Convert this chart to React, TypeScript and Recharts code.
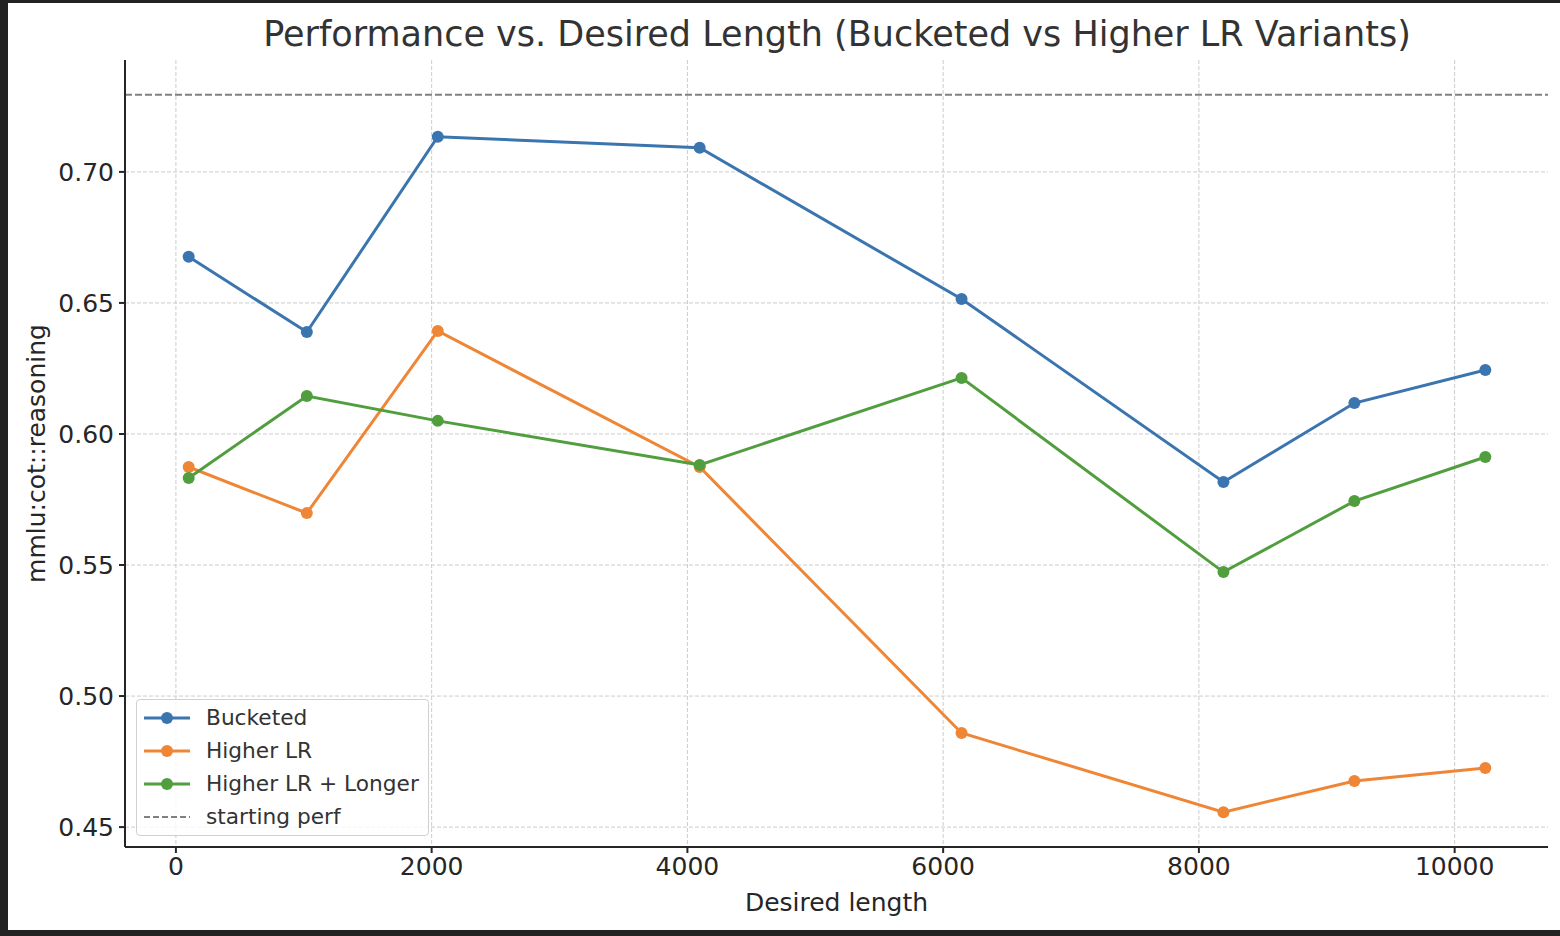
import {
  LineChart,
  Line,
  XAxis,
  YAxis,
  CartesianGrid,
  ReferenceLine,
} from "recharts";

const desiredLength = [100, 1024, 2048, 4096, 6144, 8192, 9216, 10240];
const bucketed = [0.6676, 0.6389, 0.7134, 0.7092, 0.6515, 0.5817, 0.6118, 0.6244];
const higherLR = [0.5874, 0.5698, 0.6393, 0.5874, 0.4859, 0.4557, 0.4676, 0.4725];
const higherLRLonger = [0.5832, 0.6145, 0.605, 0.5882, 0.6214, 0.5473, 0.5744, 0.5912];
const startingPerf = 0.7294;

const xTicks = [0, 2000, 4000, 6000, 8000, 10000];
const yTicks = [0.45, 0.5, 0.55, 0.6, 0.65, 0.7];

const data = desiredLength.map((x, i) => ({
  x,
  bucketed: bucketed[i],
  higherLR: higherLR[i],
  higherLRLonger: higherLRLonger[i],
}));

const FONT = "'DejaVu Sans', sans-serif";
const BLUE = "#3a75af";
const ORANGE = "#ef8636";
const GREEN = "#519e3e";
const TEXT = "#262626";

const legendItems = [
  { label: "Bucketed", color: BLUE, dashed: false },
  { label: "Higher LR", color: ORANGE, dashed: false },
  { label: "Higher LR + Longer", color: GREEN, dashed: false },
  { label: "starting perf", color: "#808080", dashed: true },
];

function LegendBox() {
  return (
    <div
      style={{
        position: "absolute",
        left: 136,
        top: 699,
        width: 293,
        height: 137,
        boxSizing: "border-box",
        border: "1px solid #d0d0d0",
        borderRadius: 4,
        background: "rgba(255,255,255,0.8)",
        fontFamily: FONT,
        fontSize: 21.7,
        color: "#333333",
        paddingTop: 1,
      }}
    >
      {legendItems.map((it) => (
        <div
          key={it.label}
          style={{ height: 33, display: "flex", alignItems: "center" }}
        >
          <svg width={60} height={20} style={{ marginLeft: 5 }}>
            <line
              x1={2}
              x2={48}
              y1={10}
              y2={10}
              stroke={it.color}
              strokeWidth={it.dashed ? 2 : 3}
              strokeDasharray={it.dashed ? "6 3" : undefined}
            />
            {!it.dashed && <circle cx={25} cy={10} r={6} fill={it.color} />}
          </svg>
          <span style={{ marginLeft: 4 }}>{it.label}</span>
        </div>
      ))}
    </div>
  );
}

export default function App() {
  return (
    <div
      style={{
        position: "fixed",
        left: 0,
        top: 0,
        width: 1560,
        height: 936,
        background: "#222222",
      }}
    >
      <div
        style={{
          position: "absolute",
          left: 8,
          top: 3,
          width: 1552,
          height: 927,
          background: "#ffffff",
        }}
      />
      <div
        style={{
          position: "absolute",
          left: 0,
          top: 14,
          width: 1560,
          textAlign: "center",
          fontFamily: FONT,
          fontSize: 35,
          color: "#333333",
          paddingLeft: 114,
          boxSizing: "border-box",
        }}
      >
        Performance vs. Desired Length (Bucketed vs Higher LR Variants)
      </div>
      <div style={{ position: "absolute", left: 0, top: 0 }}>
        <LineChart
          width={1560}
          height={936}
          data={data}
          margin={{ top: 60, right: 12, left: 0, bottom: 0 }}
        >
          <CartesianGrid
            stroke="#cccccc"
            strokeDasharray="4 2"
            verticalValues={xTicks}
            horizontalValues={yTicks}
          />
          <XAxis
            type="number"
            dataKey="x"
            domain={[-398, 10730]}
            ticks={xTicks}
            height={89}
            stroke={TEXT}
            strokeWidth={2}
            tickSize={6}
            tick={{ fill: TEXT, fontSize: 25, fontFamily: FONT, dy: 2 }}
            allowDataOverflow
            label={{
              value: "Desired length",
              position: "insideBottom",
              offset: 25,
              fill: TEXT,
              fontSize: 25,
              fontFamily: FONT,
            }}
          />
          <YAxis
            type="number"
            domain={[0.4424, 0.7427]}
            ticks={yTicks}
            width={125}
            stroke={TEXT}
            strokeWidth={2}
            tickSize={6}
            tickFormatter={(v: number) => v.toFixed(2)}
            tick={{ fill: TEXT, fontSize: 25, fontFamily: FONT, dx: -3 }}
            allowDataOverflow
            label={{
              value: "mmlu:cot::reasoning",
              angle: -90,
              position: "insideLeft",
              offset: 36,
              fill: TEXT,
              fontSize: 25,
              fontFamily: FONT,
              style: { textAnchor: "middle" },
            }}
          />
          <ReferenceLine
            y={startingPerf}
            stroke="#808080"
            strokeWidth={2}
            strokeDasharray="7 3"
          />
          <Line
            dataKey="bucketed"
            stroke={BLUE}
            strokeWidth={3}
            dot={{ r: 6, fill: BLUE, stroke: BLUE, strokeWidth: 0 }}
            isAnimationActive={false}
          />
          <Line
            dataKey="higherLR"
            stroke={ORANGE}
            strokeWidth={3}
            dot={{ r: 6, fill: ORANGE, stroke: ORANGE, strokeWidth: 0 }}
            isAnimationActive={false}
          />
          <Line
            dataKey="higherLRLonger"
            stroke={GREEN}
            strokeWidth={3}
            dot={{ r: 6, fill: GREEN, stroke: GREEN, strokeWidth: 0 }}
            isAnimationActive={false}
          />
        </LineChart>
      </div>
      <LegendBox />
    </div>
  );
}
